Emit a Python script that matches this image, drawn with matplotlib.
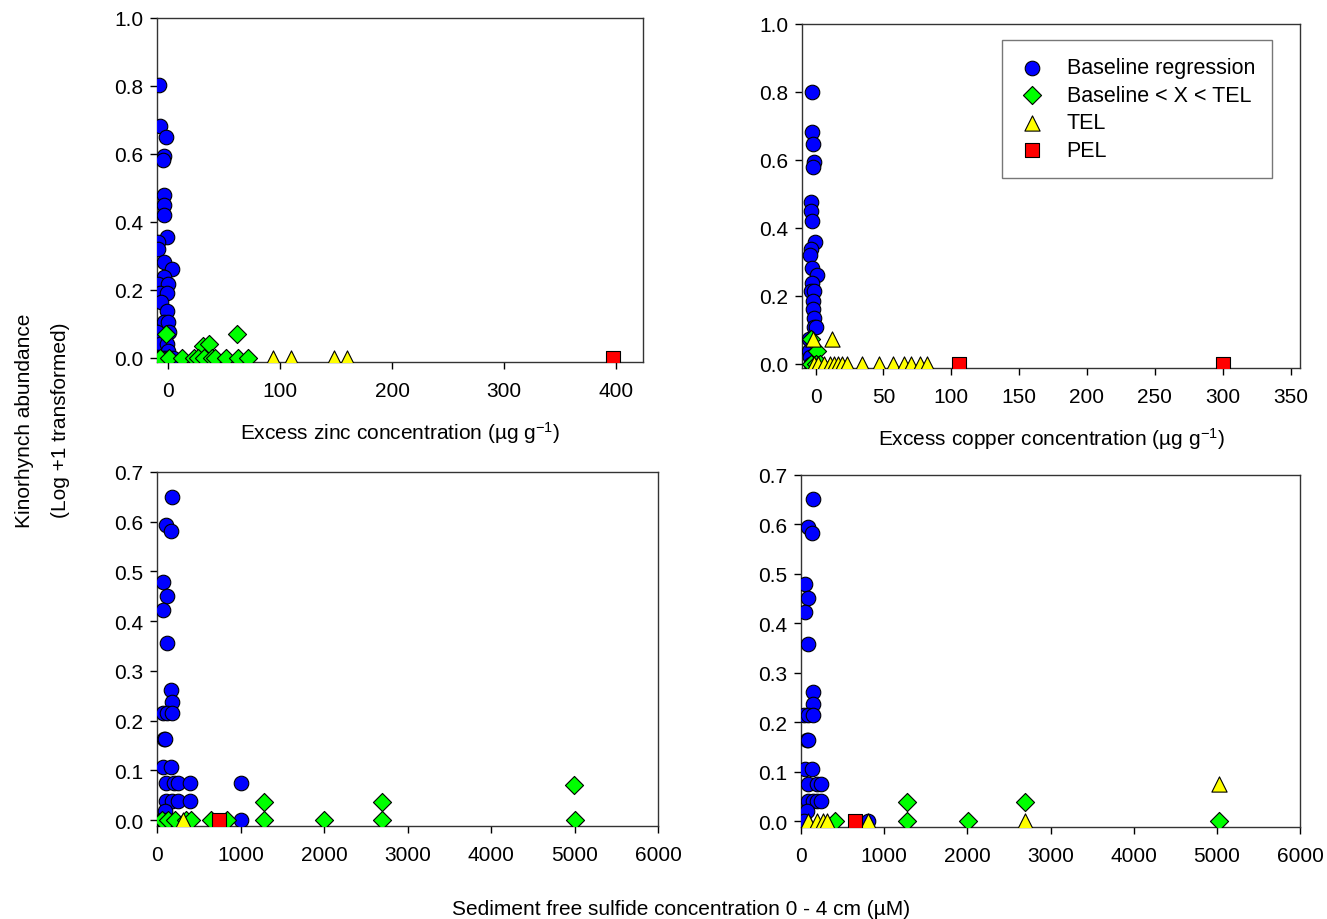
import matplotlib
matplotlib.use("Agg")
import matplotlib.pyplot as plt

plt.rcParams["font.family"] = ["Liberation Sans", "DejaVu Sans"]
plt.rcParams["mathtext.fontset"] = "custom"
plt.rcParams["mathtext.rm"] = "Liberation Sans"
plt.rcParams["mathtext.default"] = "regular"

# Excess zinc panel
zn_base_x = [-8, -7, -2, -4, -5, -4, -4, -4, -1, -9.5, -9, -4, 3, -4, -9, 0, -7, -1, -6, -1, -4, 0,
             1, -10, -7, -1, 0, -10, -8, -5, -2, 1, 4]
zn_base_y = [0.804, 0.683, 0.649, 0.595, 0.582, 0.479, 0.451, 0.421, 0.357, 0.342, 0.32, 0.283, 0.262,
             0.239, 0.216, 0.216, 0.191, 0.19, 0.164, 0.137, 0.107, 0.107, 0.075, 0.075, 0.041, 0.041,
             0.021, 0.002, 0, 0, 0, 0, 0]
zn_mid_x = [-2, 61, 31.5, 36, -7, 1, 12, 23, 27, 32, 39, 42, 52, 62, 71]
zn_mid_y = [0.071, 0.071, 0.036, 0.041, 0, 0, 0, 0, 0, 0, 0, 0, 0, 0, 0]
zn_tel_x = [93.5, 109.5, 148, 160]
zn_tel_y = [0, 0, 0, 0]
zn_pel_x = [397]
zn_pel_y = [0]

# Excess copper panel
cu_base_x = [-2.4, -2.4, -2, -1.5, -2, -3, -3, -2.4, -0.5, -3, -4, -2.4, 0.7, -2.4, -3.5, -1.5, -2, -2,
             -1.5, -1.5, 0, -5, -5, -4, -3, -1, 1]
cu_base_y = [0.801, 0.683, 0.647, 0.593, 0.58, 0.477, 0.45, 0.42, 0.359, 0.337, 0.321, 0.282, 0.261,
             0.237, 0.215, 0.215, 0.186, 0.163, 0.135, 0.108, 0.108, 0.073, 0.039, 0.02, 0, 0, 0]
cu_mid_x = [-3, 1.2, -3, 0, 3]
cu_mid_y = [0.073, 0.039, 0, 0, 0]
cu_tel_x = [-1.7, 12.3, -1.2, 1.7, 6.1, 10.5, 13.5, 16.4, 19.6, 23.3, 34.3, 47, 56.8, 65, 70, 77, 82]
cu_tel_y = [0.073, 0.073, 0, 0, 0, 0, 0, 0, 0, 0, 0, 0, 0, 0, 0, 0, 0]
cu_pel_x = [106, 300]
cu_pel_y = [0, 0]

# Sulfide panels (zinc classes, left)
sz_base_x = [175, 107, 167, 75, 115, 75, 115, 167, 175, 75, 115, 175, 85, 100, 75, 167,
             107, 206, 254, 393, 1008, 107, 175, 254, 393, 95, 1008, 60, 120]
sz_base_y = [0.650, 0.594, 0.582, 0.478, 0.451, 0.423, 0.357, 0.262, 0.238, 0.215, 0.215, 0.215,
             0.163, 0.163, 0.106, 0.106, 0.074, 0.074, 0.074, 0.074, 0.074, 0.039, 0.039, 0.039,
             0.039, 0.019, 0, 0, 0]
sz_mid_x = [1286, 1286, 2000, 2694, 2694, 4996, 5000, 56, 135, 214, 353, 413, 651, 837]
sz_mid_y = [0.037, 0, 0, 0.037, 0, 0.071, 0, 0, 0, 0, 0, 0, 0, 0]
sz_tel_x = [313]
sz_tel_y = [0]
sz_pel_x = [738]
sz_pel_y = [0]

# Sulfide panels (copper classes, right)
sc_base_x = [141, 88, 136, 48, 88, 48, 88, 141, 148, 36, 88, 141, 68, 88, 48, 136,
             88, 189, 237, 88, 148, 189, 237, 68, 811, 40]
sc_base_y = [0.651, 0.594, 0.583, 0.479, 0.452, 0.422, 0.358, 0.261, 0.237, 0.215, 0.215, 0.215,
             0.164, 0.164, 0.105, 0.105, 0.074, 0.074, 0.074, 0.040, 0.040, 0.040, 0.040, 0.021, 0, 0]
sc_mid_x = [1273, 1273, 2004, 2699, 5028, 410]
sc_mid_y = [0.038, 0, 0, 0.038, 0, 0]
sc_tel_x = [88, 189, 269, 309, 811, 2699, 5028]
sc_tel_y = [0, 0, 0, 0, 0, 0, 0.075]
sc_pel_x = [651]
sc_pel_y = [0]

styles = [
    ("Baseline regression", "o", "#0000ff", 110),
    ("Baseline < X < TEL", "D", "#00ff00", 85),
    ("TEL", "^", "#ffff00", 120),
    ("PEL", "s", "#ff0000", 95),
]

W, H = 1327, 920
fig = plt.figure(figsize=(W / 100, H / 100), dpi=100)


def make_axes(left, top, right, bottom):
    return fig.add_axes([left / W, 1 - bottom / H, (right - left) / W, (bottom - top) / H])


ax_zn = make_axes(157, 19, 643, 363)
ax_cu = make_axes(802, 25, 1300, 369)
ax_sz = make_axes(157, 473, 658, 827)
ax_sc = make_axes(801, 476, 1300, 828)

panels = [
    (ax_zn, [(zn_base_x, zn_base_y), (zn_mid_x, zn_mid_y), (zn_tel_x, zn_tel_y), (zn_pel_x, zn_pel_y)]),
    (ax_cu, [(cu_base_x, cu_base_y), (cu_mid_x, cu_mid_y), (cu_tel_x, cu_tel_y), (cu_pel_x, cu_pel_y)]),
    (ax_sz, [(sz_base_x, sz_base_y), (sz_mid_x, sz_mid_y), (sz_tel_x, sz_tel_y), (sz_pel_x, sz_pel_y)]),
    (ax_sc, [(sc_base_x, sc_base_y), (sc_mid_x, sc_mid_y), (sc_tel_x, sc_tel_y), (sc_pel_x, sc_pel_y)]),
]

for ax, groups in panels:
    for (label, marker, color, size), (xs, ys) in zip(styles, groups):
        ax.scatter(xs, ys, s=size, marker=marker, c=color, edgecolors="black",
                   linewidths=0.8, label=label, zorder=3)
    for sp in ax.spines.values():
        sp.set_color("#333333")
        sp.set_linewidth(1.0)
    ax.tick_params(direction="out", length=5, width=1, labelsize=15, pad=5, top=False, right=False)
    ax.tick_params(axis="x", pad=8.5)

ax_zn.set_xlim(-10, 424)
ax_zn.set_ylim(-0.012, 1.0)
ax_zn.set_xticks([0, 100, 200, 300, 400])
ax_zn.set_yticks([0, 0.2, 0.4, 0.6, 0.8, 1.0])
ax_zn.set_xlabel("Excess zinc concentration (µg g$^{-1}$)", fontsize=15, labelpad=14)

ax_cu.set_xlim(-10, 357)
ax_cu.set_ylim(-0.012, 1.0)
ax_cu.set_xticks([0, 50, 100, 150, 200, 250, 300, 350])
ax_cu.set_yticks([0, 0.2, 0.4, 0.6, 0.8, 1.0])
ax_cu.set_xlabel("Excess copper concentration (µg g$^{-1}$)", fontsize=15, labelpad=14)

for ax in (ax_sz, ax_sc):
    ax.set_xlim(0, 6000)
    ax.set_ylim(-0.012, 0.7)
    ax.set_xticks([0, 1000, 2000, 3000, 4000, 5000, 6000])
    ax.set_yticks([0, 0.1, 0.2, 0.3, 0.4, 0.5, 0.6, 0.7])

for ax in (ax_zn, ax_cu, ax_sz, ax_sc):
    ax.yaxis.set_major_formatter(matplotlib.ticker.FormatStrFormatter("%.1f"))

ax_cu.legend(loc="upper right", bbox_to_anchor=(0.944, 0.953), fontsize=15.5, frameon=True,
             fancybox=False, edgecolor="#555555", borderpad=0.8, handlelength=1.2,
             handletextpad=1.0, labelspacing=0.3, borderaxespad=0)

fig.text(0.032, 0.543, "Kinorhynch abundance\n(Log +1 transformed)", rotation=90,
         ha="center", va="center", fontsize=15, linespacing=2.1)
fig.text(0.513, 1 - 910 / H, "Sediment free sulfide concentration 0 - 4 cm (µM)",
         ha="center", va="center", fontsize=15)

fig.savefig("out.png", dpi=100)
